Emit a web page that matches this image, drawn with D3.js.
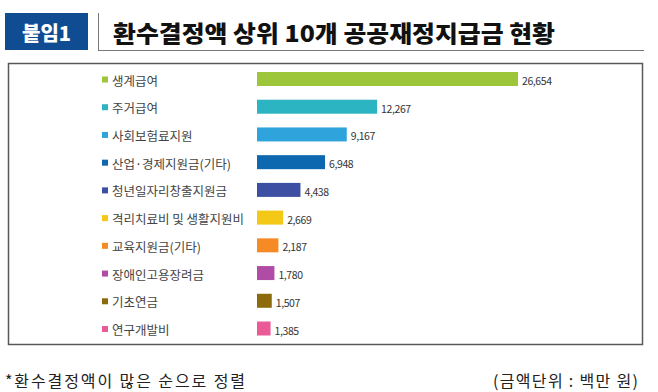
<!DOCTYPE html>
<html><head><meta charset="utf-8">
<script src="https://cdn.jsdelivr.net/npm/d3@7"></script>
<style>
html,body{margin:0;padding:0;background:#fff;}
svg{display:block;}
text{font-family:"Noto Sans CJK KR","Noto Sans",sans-serif;}
</style></head>
<body><svg id="c" width="658" height="392"></svg>
<script>
const categories = ["생계급여","주거급여","사회보험료지원","산업·경제지원금(기타)","청년일자리창출지원금","격리치료비 및 생활지원비","교육지원금(기타)","장애인고용장려금","기초연금","연구개발비"];
const values = [26654,12267,9167,6948,4438,2669,2187,1780,1507,1385];
const colors = ["#9dc63b","#2cb4c2","#2ea3dc","#0d68b0","#3c4fa3","#f4c816","#f68b26","#b04ca6","#8d6a0c","#ea5a96"];
const badge = "붙임1";
const title = "환수결정액 상위 10개 공공재정지급금 현황";
const note = "*환수결정액이 많은 순으로 정렬";
const unit = "(금액단위 : 백만 원)";

const svg = d3.select("#c");

// header
svg.append("rect").attr("x",5).attr("y",13).attr("width",83).attr("height",37).attr("fill","#0f4c91");
svg.append("text").attr("x",46.5).attr("y",32).attr("text-anchor","middle").attr("dominant-baseline","central")
  .attr("fill","#fff").attr("font-size",20).attr("font-weight",900).text(badge);
svg.append("line").attr("x1",98.5).attr("x2",98.5).attr("y1",13).attr("y2",50.5).attr("stroke","#777").attr("stroke-width",1);
svg.append("line").attr("x1",98).attr("x2",644).attr("y1",50.5).attr("y2",50.5).attr("stroke","#777").attr("stroke-width",1);
svg.append("text").attr("x",113).attr("y",32).attr("dominant-baseline","central")
  .attr("fill","#111").attr("font-size",23).attr("font-weight",900)
  .attr("textLength",442).attr("lengthAdjust","spacingAndGlyphs").text(title);

// frame
svg.append("rect").attr("x",8.5).attr("y",63.5).attr("width",634).attr("height",281)
  .attr("fill","none").attr("stroke","#595959").attr("stroke-width",1.5);

const x = d3.scaleLinear().domain([0, d3.max(values)]).range([257, 518]);
const y = d3.scalePoint().domain(categories).range([79, 328.5]);
const barH = 14;

const g = svg.append("g");
const rows = g.selectAll("g.row").data(categories).join("g").attr("class","row");

rows.append("rect")
  .attr("x", x(0))
  .attr("y", d => y(d) - barH/2)
  .attr("width", (d,i) => x(values[i]) - x(0))
  .attr("height", barH)
  .attr("fill", (d,i) => colors[i]);

rows.append("text")
  .attr("x", (d,i) => x(values[i]) + 4)
  .attr("y", d => y(d) + 1.5)
  .attr("dominant-baseline","central")
  .attr("font-size",10.5).attr("letter-spacing",-0.4).attr("fill","#333")
  .text((d,i) => d3.format(",")(values[i]));

rows.append("rect")
  .attr("x",102).attr("y", d => y(d) - 2.5).attr("width",6).attr("height",6)
  .attr("fill", (d,i) => colors[i]);

rows.append("text")
  .attr("x",112).attr("y", d => y(d) + 1)
  .attr("dominant-baseline","central")
  .attr("font-size",12.5).attr("fill","#444")
  .text(d => d);

// footer
svg.append("text").attr("x",5).attr("y",380).attr("dominant-baseline","central")
  .attr("font-size",16).attr("fill","#222")
  .attr("textLength",240).attr("lengthAdjust","spacing").text(note);
svg.append("text").attr("x",493).attr("y",380).attr("dominant-baseline","central")
  .attr("font-size",16).attr("fill","#222")
  .attr("textLength",145).attr("lengthAdjust","spacing").text(unit);
</script>
</body></html>
